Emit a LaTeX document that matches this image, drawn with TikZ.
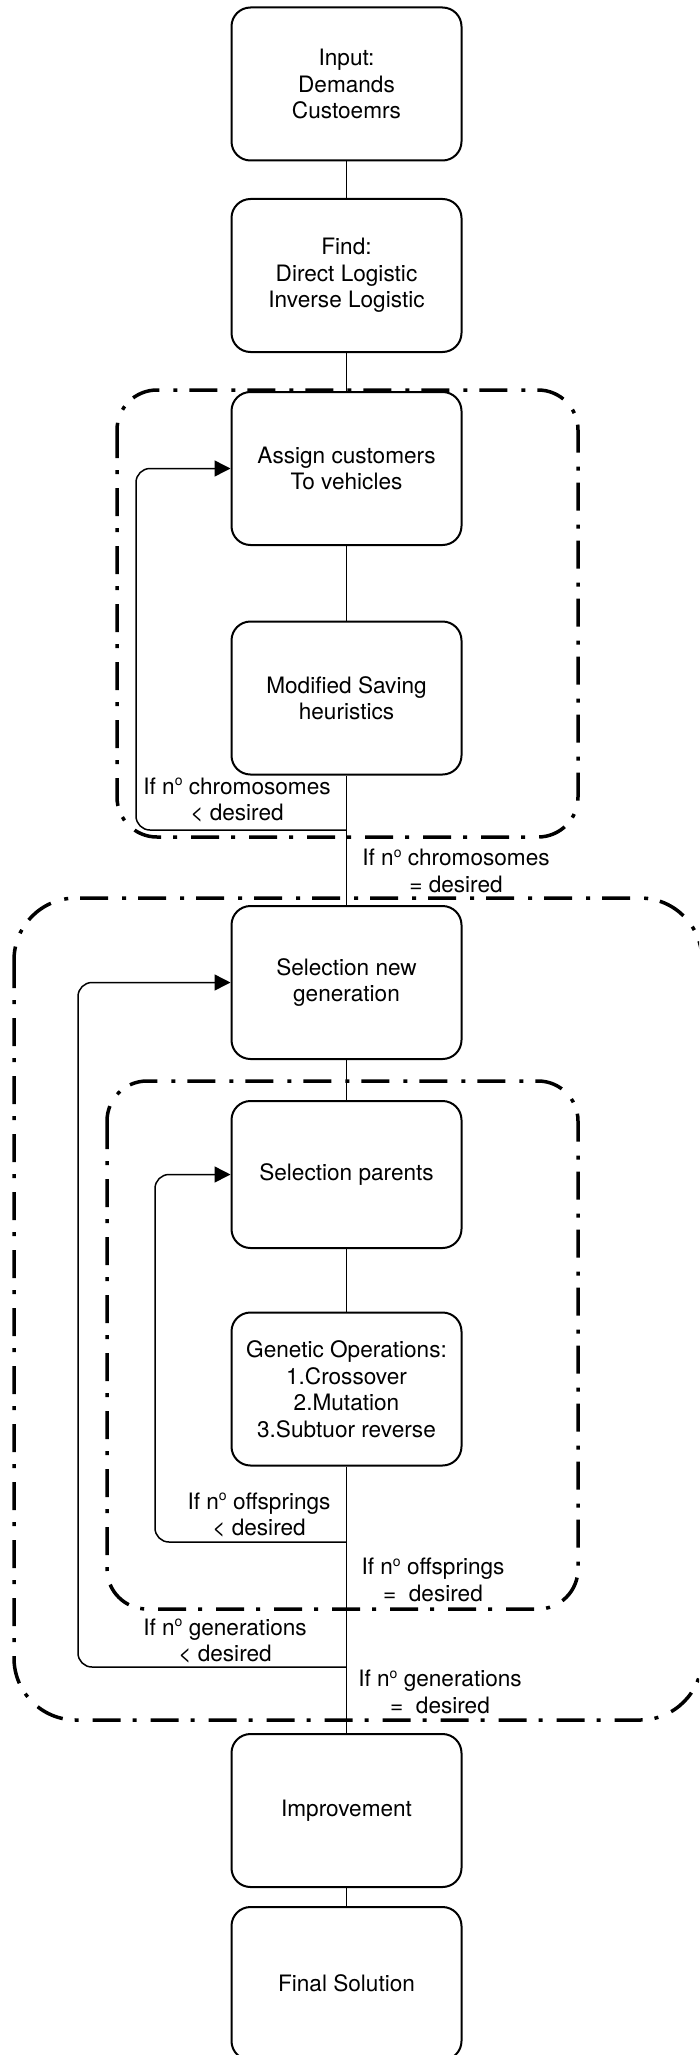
\documentclass[tikz,border=0pt]{standalone}
\usepackage{fontspec}
\setmainfont{TeX Gyre Heros}
\usetikzlibrary{arrows.meta}
% raised small "o" used in the abbreviation n.o (number)
\newcommand\numo{n\raisebox{8.6pt}{\fontsize{14}{14}\selectfont o}}
\begin{document}
\begin{tikzpicture}[x=1pt,y=-1pt,
  every node/.style={font=\fontsize{22.6}{26.5}\selectfont},
  stage/.style={draw, line width=2pt, rounded corners=19pt,
    minimum width=230pt, minimum height=153pt, align=center, inner sep=0pt},
  conn/.style={line width=1.5pt},
  loopback/.style={conn, rounded corners=14pt, -{Triangle[length=16pt,width=16pt]}},
  frame/.style={line width=3.5pt, dash pattern=on 28pt off 12pt on 4pt off 14pt},
  cond/.style={align=center, inner sep=0pt}]
\clip (0,0) rectangle (699,2055);

% dash-dotted group frames
\draw[frame, rounded corners=40pt] (117,390) rectangle (578,837);
\draw[frame, rounded corners=62pt] (14,898) rectangle (702,1720);
\draw[frame, rounded corners=40pt] (107,1081) rectangle (578,1609);

% process steps
\node[stage] (input)   at (346.5,84)     {Input:\\Demands\\Custoemrs};
\node[stage] (find)    at (346.5,275.5)  {Find:\\Direct Logistic\\Inverse Logistic};
\node[stage] (assign)  at (346.5,468.5)  {Assign customers\\To vehicles};
\node[stage] (saving)  at (346.5,698)    {Modified Saving\\heuristics};
\node[stage] (selgen)  at (346.5,982.5)  {Selection new\\generation};
\node[stage, minimum height=147pt] (selpar) at (346.5,1174.5) {Selection parents};
\node[stage] (genop)   at (346.5,1389)   {Genetic Operations:\\1.Crossover\\2.Mutation\\3.Subtuor reverse};
\node[stage] (improve) at (346.5,1810.5) {Improvement};
\node[stage] (final)   at (346.5,1983.5) {Final Solution};

% main flow
\draw[conn] (input) -- (find);
\draw[conn] (find) -- (assign);
\draw[conn] (assign) -- (saving);
\draw[conn] (saving) -- (selgen);
\draw[conn] (selgen) -- (selpar);
\draw[conn] (selpar) -- (genop);
\draw[conn] (genop) -- (improve);
\draw[conn] (improve) -- (final);

% feedback loops
\coordinate (j1) at (346.5,830);  \coordinate (k1) at (136,830);
\draw[loopback] (j1) -- (k1) |- (assign.west);
\coordinate (j3) at (346.5,1542); \coordinate (k3) at (155,1542);
\draw[loopback] (j3) -- (k3) |- (selpar.west);
\coordinate (j2) at (346.5,1667); \coordinate (k2) at (78,1667);
\draw[loopback] (j2) -- (k2) |- (selgen.west);

% loop conditions
\node[cond] (c1) at (237,800)  {If \numo{} chromosomes\\< desired};
\node[cond] (c2) at (456,871)  {If \numo{} chromosomes\\= desired};
\node[cond] (c3) at (259,1515) {If \numo{} offsprings\\< desired};
\node[cond] (c4) at (433,1580) {If \numo{} offsprings\\= \ desired};
\node[cond] (c5) at (225,1641) {If \numo{} generations\\< desired};
\node[cond] (c6) at (440,1692) {If \numo{} generations\\= \ desired};
\end{tikzpicture}
\end{document}
